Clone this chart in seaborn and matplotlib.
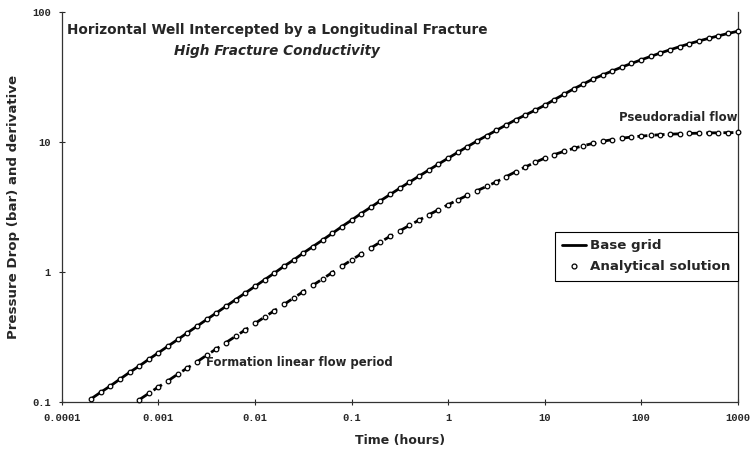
import matplotlib
matplotlib.use("Agg")
import matplotlib.pyplot as plt
import numpy as np
import pandas as pd
import seaborn as sns
from matplotlib.lines import Line2D

# Sampling times: ten log-spaced points per decade, 1e-4 .. 1000 h
mantissas = [1.0, 1.259, 1.585, 1.995, 2.512, 3.162, 3.981, 5.012, 6.310, 7.943]
time_grid = [m * 10.0 ** e for e in range(-4, 3) for m in mantissas] + [1000.0]

pressure_time = time_grid[3:]
pressure_drop = [
    0.105, 0.118, 0.132, 0.149, 0.168, 0.188, 0.212, 0.238, 0.268, 0.301,
    0.339, 0.381, 0.429, 0.482, 0.542, 0.610, 0.686, 0.771, 0.867, 0.975,
    1.10, 1.23, 1.39, 1.56, 1.75, 1.97, 2.22, 2.49, 2.80, 3.13,
    3.51, 3.92, 4.38, 4.88, 5.43, 6.04, 6.71, 7.45, 8.26, 9.14,
    10.1, 11.1, 12.2, 13.4, 14.7, 16.0, 17.4, 19.0, 21.0, 23.1,
    25.4, 27.7, 30.2, 32.5, 34.9, 37.4, 39.9, 42.5, 45.2, 48.0,
    50.8, 53.7, 56.6, 59.4, 62.2, 65.0, 67.8, 70.5,
]

derivative_time = time_grid[8:]
derivative = [
    0.1035, 0.116, 0.130, 0.145, 0.163, 0.182, 0.203, 0.228, 0.255, 0.285,
    0.319, 0.357, 0.400, 0.448, 0.501, 0.560, 0.627, 0.702, 0.786, 0.879,
    0.984, 1.10, 1.23, 1.37, 1.52, 1.69, 1.87, 2.06, 2.27, 2.49,
    2.74, 2.99, 3.27, 3.56, 3.86, 4.19, 4.53, 4.90, 5.37, 5.86,
    6.38, 6.92, 7.45, 7.94, 8.41, 8.87, 9.29, 9.68, 10.05, 10.35,
    10.62, 10.84, 11.02, 11.17, 11.30, 11.40, 11.48, 11.56, 11.61, 11.67,
    11.69, 11.72, 11.75,
]

x_ticks = [0.0001, 0.001, 0.01, 0.1, 1, 10, 100, 1000]
x_tick_labels = ["0.0001", "0.001", "0.01", "0.1", "1", "10", "100", "1000"]
y_ticks = [0.1, 1, 10, 100]
y_tick_labels = ["0.1", "1", "10", "100"]

df_p = pd.DataFrame({"time": pressure_time, "value": pressure_drop})
df_d = pd.DataFrame({"time": derivative_time, "value": derivative})

sns.set_style("ticks")
plt.rcParams["font.family"] = ["DejaVu Sans"]

fig = plt.figure(figsize=(7.52, 4.49), dpi=100)
ax = fig.add_axes([0.0824, 0.1053, 0.8985, 0.869])

# Base grid: pressure (solid) and derivative (broken line)
sns.lineplot(data=df_p, x="time", y="value", ax=ax, color="black",
             linewidth=2.0, estimator=None, sort=False)
sns.lineplot(data=df_d, x="time", y="value", ax=ax, color="black",
             linewidth=2.0, estimator=None, sort=False)
ax.lines[-1].set_dashes([3.6, 2.6])

# Analytical solution: open circles
for d in (df_p, df_d):
    sns.scatterplot(data=d, x="time", y="value", ax=ax, marker="o", s=11,
                    facecolor="white", edgecolor="black", linewidth=0.9,
                    zorder=3, clip_on=False)

ax.set_xscale("log")
ax.set_yscale("log")
ax.set_xlim(1e-4, 1000)
ax.set_ylim(0.1, 100)
ax.set_xticks(x_ticks)
ax.set_xticklabels(x_tick_labels)
ax.set_yticks(y_ticks)
ax.set_yticklabels(y_tick_labels)
ax.minorticks_off()
ax.tick_params(axis="both", direction="inout", length=4, width=0.8,
               labelsize=7.5, pad=6)
for lab in ax.get_xticklabels() + ax.get_yticklabels():
    lab.set_family("Liberation Mono")
    lab.set_fontweight("bold")

for side in ("left", "bottom", "right"):
    ax.spines[side].set_visible(True)
    ax.spines[side].set_linewidth(0.9)
    ax.spines[side].set_color("#333333")
ax.spines["top"].set_visible(False)

ax.set_xlabel("Time (hours)", fontsize=9, fontweight="bold", labelpad=8)
ax.set_ylabel("Pressure Drop (bar) and derivative", fontsize=9.6,
              fontweight="bold", labelpad=9)

ax.text(0.318, 0.953, "Horizontal Well Intercepted by a Longitudinal Fracture",
        transform=ax.transAxes, ha="center", va="center", fontsize=9.8,
        fontweight="bold")
ax.text(0.318, 0.899, "High Fracture Conductivity", transform=ax.transAxes,
        ha="center", va="center", fontsize=9.8, fontweight="bold",
        style="italic")

ax.text(985, 15.2, "Pseudoradial flow", ha="right", va="center",
        fontsize=8.5, fontweight="bold")
ax.text(0.0031, 0.199, "Formation linear flow period", ha="left",
        va="center", fontsize=8.4, fontweight="bold")

handles = [
    Line2D([], [], color="black", linewidth=2.0),
    Line2D([], [], color="black", linestyle="none", marker="o",
           markersize=3.5, markerfacecolor="white", markeredgewidth=0.9),
]
leg = ax.legend(handles, ["Base grid", "Analytical solution"],
                loc="upper right", bbox_to_anchor=(1.0, 0.435),
                borderaxespad=0, frameon=True, fancybox=False, framealpha=1,
                edgecolor="black", handlelength=1.8, handletextpad=0.3,
                borderpad=0.55, labelspacing=0.6,
                prop={"weight": "bold", "size": 9.6})
leg.get_frame().set_linewidth(0.8)

fig.savefig("out.png", dpi=100)
